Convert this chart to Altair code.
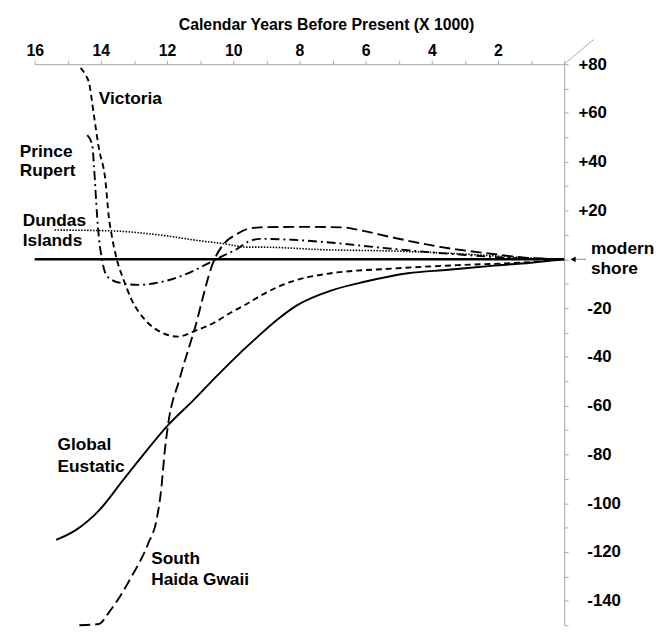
import altair as alt
import pandas as pd

FONT = "Liberation Sans, Arial, sans-serif"

# Axis ticks
T_TICKS = list(range(0, 17))
Y_TICKS = list(range(-150, 81, 10))

# Series (t = calendar years BP x 1000, y = relative sea level, m)
eust_t = [15.35, 14.76, 14.06, 13.3, 12.77, 11.97, 11.2, 10.58, 10.03, 9.28, 8.69, 8.09, 7.0, 6.0, 4.72, 3.5, 2.2, 1.0, 0.0]
eust_y = [-115, -111, -103, -90, -81, -68, -57.7, -49, -41.5, -32, -25, -19, -12.6, -9.1, -5.7, -4.3, -2.7, -1.4, 0]

haida_t = [14.65, 14.06, 13.76, 13.07, 12.57, 12.32, 12.17, 12.07, 11.97, 11.62, 11.17, 10.58, 10.28, 9.88, 9.58, 9.19, 8.0, 6.7, 6.2, 5.2, 3.71, 2.22, 1.22, 0.0]
haida_y = [-150, -149.5, -144.8, -130, -116.5, -107, -93.5, -78.7, -67.9, -49, -28.7, -0.4, 6.4, 10.4, 12.4, 13.1, 13.3, 13.1, 12, 9, 5, 2.3, 0.7, 0]

vic_t = [14.61, 14.46, 14.36, 14.21, 14.06, 13.86, 13.76, 13.67, 13.51, 13.31, 13.07, 12.67, 12.17, 11.67, 11.17, 10.58, 10.08, 9.58, 9.19, 8.19, 7.19, 5.2, 3.22, 1.22, 0.0]
vic_y = [78.5, 75.5, 72.5, 59, 45.5, 32, 17.4, 9.7, -0.4, -8.5, -16.6, -24.7, -30, -31.7, -29.4, -26, -21.9, -18.2, -15.0, -8.9, -6.0, -3.8, -2.4, -1.3, 0]

pr_t = [14.41, 14.26, 14.21, 14.16, 14.11, 14.06, 13.96, 13.86, 13.66, 13.36, 12.87, 12.37, 11.77, 11.17, 10.68, 10.28, 9.88, 9.58, 9.19, 8.2, 7.19, 5.2, 3.21, 1.22, 0.0]
pr_y = [50.9, 46.8, 38.7, 27.9, 17.1, 9.0, -0.4, -5.8, -8.5, -9.8, -10.5, -9.8, -7.8, -4.5, -1.1, 1.6, 4.3, 7.0, 8.4, 8.0, 7.0, 4.3, 2.0, 0.3, 0]

dun_t = [15.4, 13.76, 12.07, 11.07, 10.28, 9.58, 9.19, 7.19, 5.2, 3.21, 1.22, 0.0]
dun_y = [12, 11.7, 9.7, 7.7, 6.4, 5.0, 5.0, 3.9, 3.4, 2.3, 0.7, 0]

shore_t = [16, 0]
shore_y = [0, 0]

# Annotations
lab_text = ["Victoria", "Prince", "Rupert", "Dundas", "Islands", "Global", "Eustatic",
            "South", "Haida Gwaii", "modern", "shore"]
lab_t = [14.06, 16.45, 16.45, 16.36, 16.36, 15.31, 15.31, 12.48, 12.48, -0.81, -0.81]
lab_y = [65.6, 44.1, 36.0, 15.8, 7.3, -76.1, -85.0, -122.7, -131.6, 4.0, -4.0]

# modern shore arrow
arrow_t = [-0.3, -0.66]
arrow_y = [0, 0]

x_scale = alt.Scale(domain=[16, 0], nice=False, zero=False)
y_scale = alt.Scale(domain=[-150, 80], nice=False, zero=False)

x_axis = alt.Axis(
    orient="top", values=T_TICKS,
    labelExpr="datum.value % 2 == 0 && datum.value > 0 ? datum.value : ''",
    title="Calendar Years Before Present (X 1000)",
    titleFont=FONT, titleFontSize=16, titleFontWeight="bold", titleColor="black",
    titleX=295, titleY=-35, titleAlign="center", titleBaseline="alphabetic",
    labelFont=FONT, labelFontSize=16, labelFontWeight="bold", labelColor="black",
    labelPadding=2, labelFlush=False, labelOverlap=False,
    tickColor="#aaa", tickSize=4, domainColor="#aaa", domainWidth=1, grid=False,
)
y_axis = alt.Axis(
    orient="right", values=Y_TICKS,
    labelExpr="datum.value % 20 == 0 && datum.value != 0 ? (datum.value > 0 ? '+' + datum.value : '' + datum.value) : ''",
    title=None,
    labelFont=FONT, labelFontSize=17, labelFontWeight="bold", labelColor="black",
    labelAlign="left", labelBaseline="middle",
    labelPadding=alt.ExprRef(expr="datum.value > 0 ? 10 : 19"),
    labelFlush=False, labelOverlap=False,
    tickColor="#aaa", tickSize=4, domainColor="#aaa", domainWidth=1, grid=False,
)

X = alt.X("t:Q", scale=x_scale, axis=x_axis)
Y = alt.Y("y:Q", scale=y_scale, axis=y_axis)


def series(ts, ys):
    return pd.DataFrame({"t": ts, "y": ys})


def line_layer(ts, ys, dash=None, width=1.9):
    kw = dict(color="black", strokeWidth=width, interpolate="monotone")
    if dash:
        kw["strokeDash"] = dash
    return alt.Chart(series(ts, ys)).mark_line(**kw).encode(x=X, y=Y)


shore = line_layer(shore_t, shore_y, width=2.6)
eust = line_layer(eust_t, eust_y)
haida = line_layer(haida_t, haida_y, dash=[11, 5])
vic = line_layer(vic_t, vic_y, dash=[6, 4])
pr = line_layer(pr_t, pr_y, dash=[9, 4, 2, 4])
dun = line_layer(dun_t, dun_y, dash=[1.5, 1.5], width=1.6)

arrow_line = alt.Chart(series(arrow_t, arrow_y)).mark_line(color="#888", strokeWidth=1).encode(x=X, y=Y)
arrow_head = alt.Chart(series([-0.27], [0])).mark_point(
    shape="triangle-left", filled=True, color="black", size=35, opacity=1
).encode(x=X, y=Y)

labels = alt.Chart(pd.DataFrame({"text": lab_text, "t": lab_t, "y": lab_y})).mark_text(
    align="left", baseline="middle", font=FONT, fontSize=17.5, fontWeight="bold", color="black"
).encode(x=X, y=Y, text="text:N")

corner = alt.Chart(pd.DataFrame({"a": [0]})).mark_rule(color="#aaa", strokeWidth=1).encode(
    x=alt.value(536), y=alt.value(0), x2=alt.value(566), y2=alt.value(-25)
)

chart = alt.layer(shore, dun, pr, vic, haida, eust, arrow_line, arrow_head, labels, corner).properties(
    width=536, height=568,
    autosize=alt.AutoSizeParams(type="none"),
    padding={"left": 27, "top": 53, "right": 95, "bottom": 3},
    background="white",
).configure_view(stroke=None)

chart.save("out.html", embed_options={"renderer": "svg", "actions": False})
